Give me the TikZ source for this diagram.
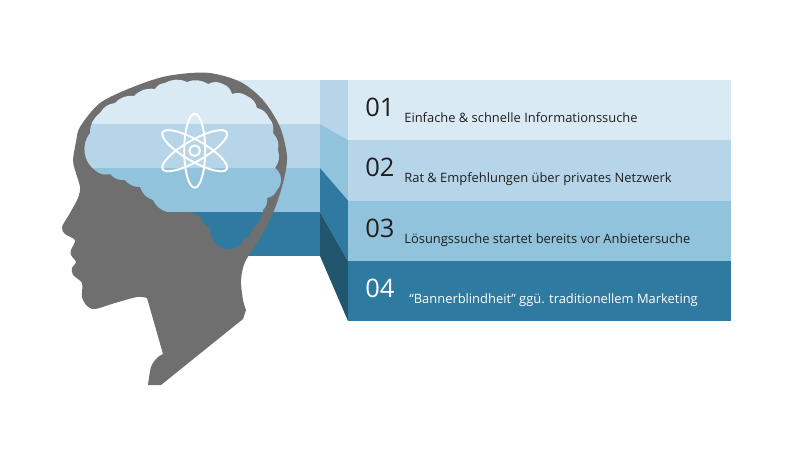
\documentclass[tikz,border=0pt]{standalone}
\usepackage{fontspec}
\setmainfont{Open Sans}
\definecolor{bandone}{HTML}{DAEAF4}
\definecolor{bandtwo}{HTML}{B7D5E8}
\definecolor{bandthree}{HTML}{92C3DC}
\definecolor{bandfour}{HTML}{2F7AA0}
\definecolor{sidefour}{HTML}{22566F}
\definecolor{headgray}{HTML}{6F6F6F}
\definecolor{inkdark}{HTML}{1F1F1F}
\begin{document}
\begin{tikzpicture}[x=0.02cm,y=-0.02cm]

% definitions
\tikzstyle{number} = [anchor=base west, inner sep=0pt, font=\fontsize{14.5}{17}\selectfont, text=inkdark]
\tikzstyle{caption} = [anchor=base west, inner sep=0pt, font=\fontsize{7.35}{9}\selectfont, text=inkdark]
\tikzstyle{orbit} = [draw=white, line width=1.1pt]
\tikzstyle{lobe} = [bend left=26]
\tikzset{brain/.style={insert path={(96,171) to[bend left=48] (90,133) to[lobe] (100,113) to[lobe] (115,103)
  to[lobe] (134,96) to[lobe] (155,89) to[lobe] (165,83) to[lobe] (187,82) to[lobe] (208,84) to[lobe] (223,84)
  to[lobe] (232,94) to[lobe] (247,96) to[lobe] (257,108) to[lobe] (269,118) to[lobe] (273,133) to[lobe] (278,150)
  to[lobe] (275,168) to[bend left=50] (277,190) to[lobe] (267,198) to[lobe] (263,210) to[lobe] (253,227)
  to[lobe] (243,240) to[bend left=60] (218,245) to[lobe] (210,228) to[lobe] (200,215) to[bend left=15] (190,212)
  -- (168,212) to[bend left=25] (153,200) to[lobe] (140,187) to[lobe] (125,180) to[lobe] (110,174) to[lobe] (96,171) -- cycle}}}

\useasboundingbox (0,0) rectangle (800,450);

% the bands
\fill [bandone] (215,80) rectangle (320,124);
\fill [bandtwo] (215,124) rectangle (320,168);
\fill [bandthree] (215,168) rectangle (320,212);
\fill [bandfour] (215,212) rectangle (320,256);

\fill [bandtwo] (320,80) -- (348,80) -- (348,140) -- (320,124) -- cycle;
\fill [bandthree] (320,124) -- (348,140) -- (348,200.5) -- (320,168) -- cycle;
\fill [bandfour] (320,168) -- (348,200.5) -- (348,261) -- (320,212) -- cycle;
\fill [sidefour] (320,212) -- (348,261) -- (348,321) -- (320,256) -- cycle;

\fill [bandone] (348,80) rectangle (731,140);
\fill [bandtwo] (348,140) rectangle (731,200.5);
\fill [bandthree] (348,200.5) rectangle (731,261);
\fill [bandfour] (348,261) rectangle (731,321);

% the head
\fill [headgray] (246,310) -- (243,319) -- (161,385)
  -- plot [smooth, tension=0.5] coordinates {(148,385) (151,367) (157,358) (163,354)}
  -- plot [smooth, tension=0.5] coordinates {(147,298) (137,297) (115,303) (95,309) (87,306) (82,297) (82,283)
    (73,275) (72,268) (76,262) (71,255) (71,250) (75,240) (65,234) (62,227) (70,213) (78,198) (80,187)
    (75,170) (73,160) (76,142) (80,127) (100,103) (133,87) (167,76) (207,72.7) (240,81.7) (263,100) (280,127)
    (287,157) (283,183) (273,213) (257,243) (245,262) (241,280) (243,300) (246,310)}
  -- cycle;

% the brain
\begin{scope}
\clip [brain];
\fill [bandone] (60,70) rectangle (300,124);
\fill [bandtwo] (60,124) rectangle (300,168);
\fill [bandthree] (60,168) rectangle (300,212);
\fill [bandfour] (60,212) rectangle (300,260);
\end{scope}

% the atom
\coordinate (atom) at (194.7,150.7);
\draw [orbit] (atom) circle (5.3);
\draw [orbit] (atom) ellipse (10.5 and 37);
\draw [orbit, rotate around={60:(atom)}] (atom) ellipse (10.5 and 37);
\draw [orbit, rotate around={-60:(atom)}] (atom) ellipse (10.5 and 37);

% the texts
\node (n1) [number] at (365,116.5) {01};
\node (n2) [number] at (365,176.5) {02};
\node (n3) [number] at (365,237.5) {03};
\node (n4) [number, text=white] at (365,297.5) {04};

\node (t1) [caption] at (404,122.5) {Einfache \& schnelle Informationssuche};
\node (t2) [caption] at (404,182.5) {Rat \& Empfehlungen über privates Netzwerk};
\node (t3) [caption] at (404,243) {Lösungssuche startet bereits vor Anbietersuche};
\node (t4) [caption, text=white] at (409,303) {“Bannerblindheit” ggü. traditionellem Marketing};

\end{tikzpicture}
\end{document}
